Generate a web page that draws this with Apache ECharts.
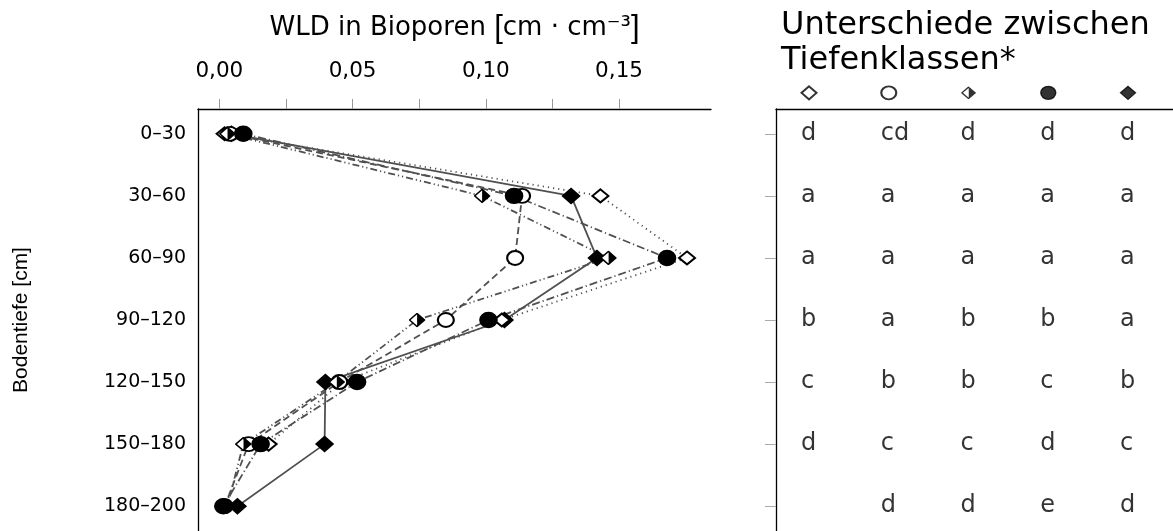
<!DOCTYPE html>
<html>
<head>
<meta charset="utf-8">
<script src="https://cdn.jsdelivr.net/npm/echarts@6/dist/echarts.min.js"></script>
<style>
  html, body { margin: 0; padding: 0; background: #fff; }
  #chart { width: 1173px; height: 531px; }
</style>
</head>
<body>
<div id="chart"></div>
<script>
// Tiefenklassen (Zeilen) und Achsenwerte
var depthClasses = ['0–30', '30–60', '60–90', '90–120', '120–150', '150–180', '180–200'];
var xTickValues = [0, 0.025, 0.05, 0.075, 0.1, 0.125, 0.15];
var xLabelValues = [0, 0.05, 0.1, 0.15];

// WLD in Bioporen je Variante, von oben nach unten (null = kein Wert)
var wldOpenDiamond   = [0.002, 0.143, 0.1755, 0.106, 0.046, 0.0185, null];
var wldOpenCircle    = [0.004, 0.1136, 0.111, 0.085, 0.045, 0.011, 0.002];
var wldHalfDiamond   = [0.003, 0.0986, 0.146, 0.0742, 0.044, 0.009, 0.003];
var wldFilledCircle  = [0.009, 0.1106, 0.168, 0.101, 0.0517, 0.0155, 0.0015];
var wldFilledDiamond = [0.0045, 0.132, 0.1417, 0.107, 0.0398, 0.0395, 0.0068];

// Buchstaben: Unterschiede zwischen Tiefenklassen
var letOpenDiamond   = ['d', 'a', 'a', 'b', 'c', 'd', ''];
var letOpenCircle    = ['cd', 'a', 'a', 'a', 'b', 'c', 'd'];
var letHalfDiamond   = ['d', 'a', 'a', 'b', 'b', 'c', 'd'];
var letFilledCircle  = ['d', 'a', 'a', 'b', 'c', 'd', 'e'];
var letFilledDiamond = ['d', 'a', 'a', 'a', 'b', 'c', 'd'];

var FONT = '"DejaVu Sans", "Liberation Sans", Arial, sans-serif';
var FONT_V = '"Liberation Sans", Arial, sans-serif';

var halfSvg = "<svg xmlns='http://www.w3.org/2000/svg' width='34' height='30' viewBox='0 0 34 30'>" +
  "<path d='M17 2 L32 15 L17 28 Z' fill='black'/>" +
  "<path d='M17 2 L2 15 L17 28 Z' fill='white'/>" +
  "<path d='M17 2 L32 15 L17 28 L2 15 Z' fill='none' stroke='black' stroke-width='3'/></svg>";
var halfSymbol = 'image://data:image/svg+xml;charset=utf-8,' + encodeURIComponent(halfSvg);

var variants = [
  { name: 'gefüllte Raute', data: wldFilledDiamond, letters: letFilledDiamond, col: 5,
    symbol: 'diamond', size: [17, 15], dash: 'solid' },
  { name: 'offene Raute', data: wldOpenDiamond, letters: letOpenDiamond, col: 1,
    symbol: 'emptyDiamond', size: [16, 13], dash: [1.2, 4] },
  { name: 'offener Kreis', data: wldOpenCircle, letters: letOpenCircle, col: 2,
    symbol: 'emptyCircle', size: [16, 14], dash: [7, 4] },
  { name: 'halbe Raute', data: wldHalfDiamond, letters: letHalfDiamond, col: 3,
    symbol: halfSymbol, size: [17, 15], dash: [7, 3, 1.2, 3, 1.2, 3] },
  { name: 'gefüllter Kreis', data: wldFilledCircle, letters: letFilledCircle, col: 4,
    symbol: 'circle', size: [17, 15], dash: [8, 3, 1.2, 3] }
];

var chart = echarts.init(document.getElementById('chart'));

var series = [];
variants.forEach(function (v) {
  var pts = [];
  v.data.forEach(function (x, i) { if (x !== null) pts.push([x, i]); });
  series.push({
    name: v.name,
    type: 'line',
    xAxisIndex: 0,
    yAxisIndex: 0,
    data: pts,
    symbol: v.symbol,
    symbolSize: v.size,
    showAllSymbol: true,
    lineStyle: { color: '#505050', width: 1.8, type: v.dash },
    itemStyle: { color: '#000', borderColor: '#000', borderWidth: 1.5 },
    clip: false
  });
});

// Buchstaben im rechten Feld
var letterData = [];
variants.forEach(function (v) {
  v.letters.forEach(function (l, i) {
    if (l) letterData.push([v.col, i, l]);
  });
});
series.push({
  type: 'scatter',
  xAxisIndex: 1,
  yAxisIndex: 1,
  data: letterData,
  symbolSize: 1,
  itemStyle: { color: 'rgba(0,0,0,0)' },
  label: {
    show: true,
    position: 'inside',
    align: 'left',
    offset: [-8, 0],
    formatter: function (p) { return p.value[2]; },
    fontSize: 24,
    fontFamily: FONT,
    color: '#000'
  }
});

// Symbolkopf im rechten Feld
series.push({
  type: 'scatter',
  xAxisIndex: 1,
  yAxisIndex: 1,
  clip: false,
  data: variants.map(function (v) {
    return {
      value: [v.col, -0.66],
      symbol: v.symbol,
      symbolSize: [15, 13],
      itemStyle: { color: '#000', borderColor: '#000', borderWidth: 1.3 }
    };
  })
});

var option = {
  animation: false,
  backgroundColor: '#fff',
  textStyle: { fontFamily: FONT },
  title: {
    text: 'Unterschiede zwischen\nTiefenklassen*',
    left: 776,
    top: 3,
    textStyle: { fontSize: 32, fontWeight: 'normal', fontFamily: FONT, color: '#000', lineHeight: 35 }
  },
  grid: [
    { left: 198, top: 109, width: 513, bottom: 0 },
    { left: 776, top: 109, right: 0, bottom: 0 }
  ],
  xAxis: [
    {
      gridIndex: 0,
      type: 'value',
      position: 'top',
      min: -0.008,
      max: 0.1845,
      name: '{t|WLD in Bioporen }{b|[}{t|cm · cm⁻³}{b|]}',
      nameLocation: 'middle',
      nameGap: 65,
      nameTextStyle: {
        color: '#000',
        rich: {
          t: { fontSize: 26, fontFamily: FONT, color: '#000' },
          b: { fontSize: 31, fontFamily: FONT_V, color: '#000', fontWeight: 'lighter' }
        }
      },
      axisLine: { show: true, onZero: false, lineStyle: { color: '#000', width: 1.3 } },
      axisTick: { show: true, inside: false, length: 10, customValues: xTickValues, lineStyle: { color: '#999' } },
      axisLabel: {
        show: true,
        customValues: xLabelValues,
        margin: 27,
        fontSize: 21.5,
        color: '#000',
        fontFamily: FONT,
        formatter: function (v) { return v.toFixed(2).replace('.', ','); }
      },
      splitLine: { show: false }
    },
    {
      gridIndex: 1,
      type: 'value',
      position: 'top',
      min: 0.586,
      max: 5.564,
      axisLine: { show: true, onZero: false, lineStyle: { color: '#000', width: 1.3 } },
      axisTick: { show: false },
      axisLabel: { show: false },
      splitLine: { show: false }
    }
  ],
  yAxis: [
    {
      gridIndex: 0,
      type: 'value',
      inverse: true,
      min: -0.4,
      max: 6.4,
      name: 'Bodentiefe [cm]',
      nameLocation: 'middle',
      nameRotate: 90,
      nameGap: 166,
      nameTextStyle: { fontSize: 21, color: '#000', fontFamily: FONT_V },
      axisLine: { show: true, onZero: false, lineStyle: { color: '#000', width: 1.3 } },
      axisTick: { show: false },
      axisLabel: {
        show: true,
        customValues: [0, 1, 2, 3, 4, 5, 6],
        margin: 12,
        fontSize: 19,
        color: '#000',
        fontFamily: FONT,
        formatter: function (v) { return depthClasses[Math.round(v)]; }
      },
      splitLine: { show: false }
    },
    {
      gridIndex: 1,
      type: 'value',
      inverse: true,
      min: -0.4,
      max: 6.4,
      axisLine: { show: true, onZero: false, lineStyle: { color: '#000', width: 1.3 } },
      axisTick: { show: true, inside: false, length: 11, customValues: [0, 1, 2, 3, 4, 5, 6], lineStyle: { color: '#aaa' } },
      axisLabel: { show: false },
      splitLine: { show: false }
    }
  ],
  series: series
};

chart.setOption(option);
window.addEventListener('resize', chart.resize);
</script>
</body>
</html>
